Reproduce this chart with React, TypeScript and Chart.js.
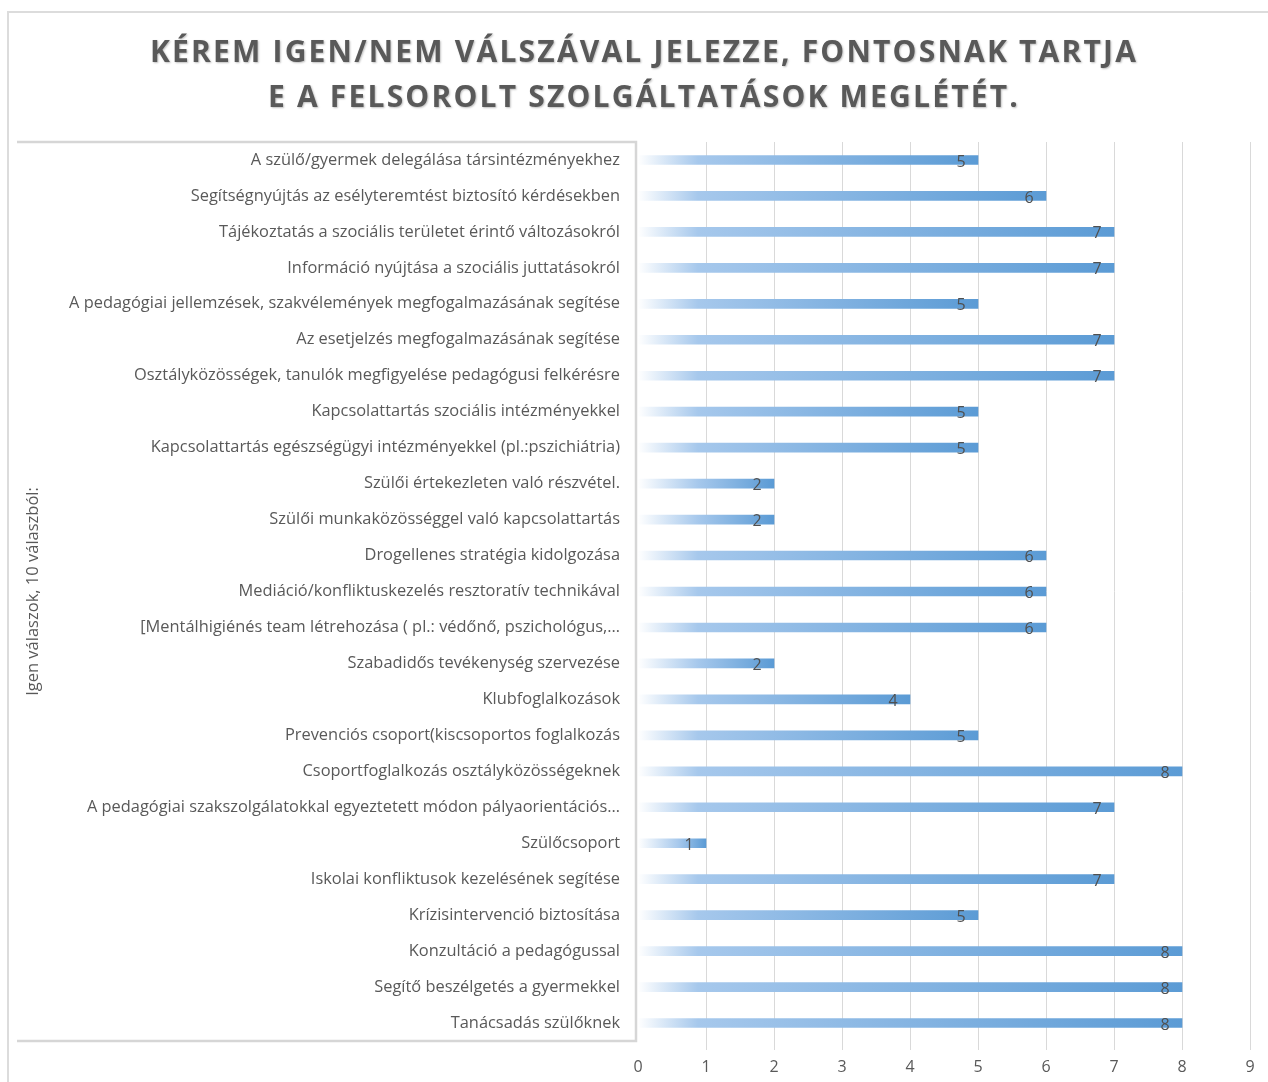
import React, { useEffect, useRef } from "react";
import { Chart, registerables } from "chart.js";

Chart.register(...registerables);

const titleLines = [
  "KÉREM IGEN/NEM VÁLSZÁVAL JELEZZE, FONTOSNAK TARTJA",
  "E A FELSOROLT SZOLGÁLTATÁSOK MEGLÉTÉT.",
];

const axisTitle = "Igen válaszok, 10 válaszból:";

const categories = [
  "A szülő/gyermek delegálása társintézményekhez",
  "Segítségnyújtás az esélyteremtést biztosító kérdésekben",
  "Tájékoztatás a szociális területet érintő változásokról",
  "Információ nyújtása a szociális juttatásokról",
  "A pedagógiai jellemzések, szakvélemények megfogalmazásának segítése",
  "Az esetjelzés megfogalmazásának segítése",
  "Osztályközösségek, tanulók megfigyelése pedagógusi felkérésre",
  "Kapcsolattartás szociális intézményekkel",
  "Kapcsolattartás egészségügyi intézményekkel (pl.:pszichiátria)",
  "Szülői értekezleten való részvétel.",
  "Szülői munkaközösséggel való kapcsolattartás",
  "Drogellenes stratégia kidolgozása",
  "Mediáció/konfliktuskezelés resztoratív technikával",
  "[Mentálhigiénés team létrehozása ( pl.: védőnő, pszichológus,…",
  "Szabadidős tevékenység szervezése",
  "Klubfoglalkozások",
  "Prevenciós csoport(kiscsoportos foglalkozás",
  "Csoportfoglalkozás osztályközösségeknek",
  "A pedagógiai szakszolgálatokkal egyeztetett módon pályaorientációs…",
  "Szülőcsoport",
  "Iskolai konfliktusok kezelésének segítése",
  "Krízisintervenció biztosítása",
  "Konzultáció a pedagógussal",
  "Segítő beszélgetés a gyermekkel",
  "Tanácsadás szülőknek",
];

const yesCounts = [5, 6, 7, 7, 5, 7, 7, 5, 5, 2, 2, 6, 6, 6, 2, 4, 5, 8, 7, 1, 7, 5, 8, 8, 8];

const xMin = 0;
const xMax = 9;
const xStep = 1;

const FONT = '"Open Sans", "Noto Sans", sans-serif';
const TEXT = "#595959";

const decorPlugin = {
  id: "decor",
  beforeDraw(chart: any) {
    const ctx = chart.ctx;
    const ca = chart.chartArea;
    ctx.save();
    // outer frame
    ctx.strokeStyle = "#dcdcdc";
    ctx.lineWidth = 2;
    ctx.beginPath();
    ctx.moveTo(8, chart.height);
    ctx.lineTo(8, 12);
    ctx.lineTo(chart.width, 12);
    ctx.stroke();
    // label box
    ctx.strokeStyle = "#d6d6d6";
    ctx.lineWidth = 2.5;
    ctx.beginPath();
    ctx.moveTo(17, ca.top);
    ctx.lineTo(ca.left - 2, ca.top);
    ctx.lineTo(ca.left - 2, ca.bottom);
    ctx.lineTo(17, ca.bottom);
    ctx.stroke();
    // title
    ctx.fillStyle = TEXT;
    ctx.font = "bold 30px " + FONT;
    (ctx as any).letterSpacing = "2.2px";
    ctx.textAlign = "center";
    ctx.textBaseline = "middle";
    ctx.shadowColor = "rgba(0,0,0,0.25)";
    ctx.shadowBlur = 2;
    ctx.shadowOffsetX = 1;
    ctx.shadowOffsetY = 1;
    titleLines.forEach((t, i) => ctx.fillText(t, 644, 53 + i * 45));
    ctx.restore();
  },
  afterDatasetsDraw(chart: any) {
    const ctx = chart.ctx;
    const meta = chart.getDatasetMeta(0);
    ctx.save();
    ctx.fillStyle = "#505050";
    ctx.font = "16px " + FONT;
    ctx.textAlign = "center";
    ctx.textBaseline = "middle";
    meta.data.forEach((el: any, i: number) => {
      ctx.fillText(String(yesCounts[i]), el.x - 17, el.y + 2);
    });
    ctx.restore();
  },
};

export default function App() {
  const ref = useRef<HTMLCanvasElement>(null);
  useEffect(() => {
    if (!ref.current) return;
    const chart = new Chart(ref.current, {
      type: "bar",
      data: {
        labels: categories,
        datasets: [
          {
            data: yesCounts,
            barThickness: 9,
            borderWidth: 0,
            backgroundColor: (c: any) => {
              const ch = c.chart;
              const xs = ch.scales && ch.scales.x;
              if (!xs || c.type !== "data") return "#5b9bd5";
              const x0 = xs.getPixelForValue(0);
              const x1 = xs.getPixelForValue(c.raw);
              if (!isFinite(x0) || !isFinite(x1) || x1 - x0 < 2) return "#5b9bd5";
              const w = x1 - x0;
              const g = ch.ctx.createLinearGradient(x0, 0, x1, 0);
              const s = Math.min(60 / w, 0.6);
              g.addColorStop(0, "#ffffff");
              g.addColorStop(s, "#a6c8ec");
              g.addColorStop(1, "#5b9bd5");
              return g;
            },
          },
        ],
      },
      options: {
        indexAxis: "y",
        responsive: false,
        animation: false,
        layout: { padding: { left: 18, right: 18, top: 142, bottom: 0 } },
        plugins: {
          legend: { display: false },
          title: { display: false },
          tooltip: { enabled: false },
        },
        scales: {
          x: {
            type: "linear",
            min: xMin,
            max: xMax,
            ticks: {
              stepSize: xStep,
              color: TEXT,
              padding: 8,
              font: { family: FONT, size: 16 },
            },
            grid: {
              color: (c: any) => (c.tick && c.tick.value === 0 ? "rgba(0,0,0,0)" : "#d9d9d9"),
              lineWidth: 1,
              drawTicks: true,
              tickLength: 9,
            },
            border: { display: false },
            afterFit: (s: any) => {
              s.height = 41;
            },
          },
          y: {
            type: "category",
            ticks: {
              color: TEXT,
              padding: 18,
              font: { family: FONT, size: 16.4 },
              autoSkip: false,
            },
            grid: { display: false, drawTicks: false },
            border: { display: false },
            title: {
              display: true,
              text: axisTitle,
              color: TEXT,
              font: { family: FONT, size: 16.5 },
              padding: { top: 5, bottom: 0 },
            },
            afterFit: (s: any) => {
              s.width = 620;
            },
          },
        },
      },
      plugins: [decorPlugin],
    } as any);
    return () => chart.destroy();
  }, []);
  return (
    <div style={{ position: "absolute", left: 0, top: 0, width: 1268, height: 1082, background: "#fff" }}>
      <canvas ref={ref} width={1268} height={1082} style={{ display: "block" }} />
    </div>
  );
}
